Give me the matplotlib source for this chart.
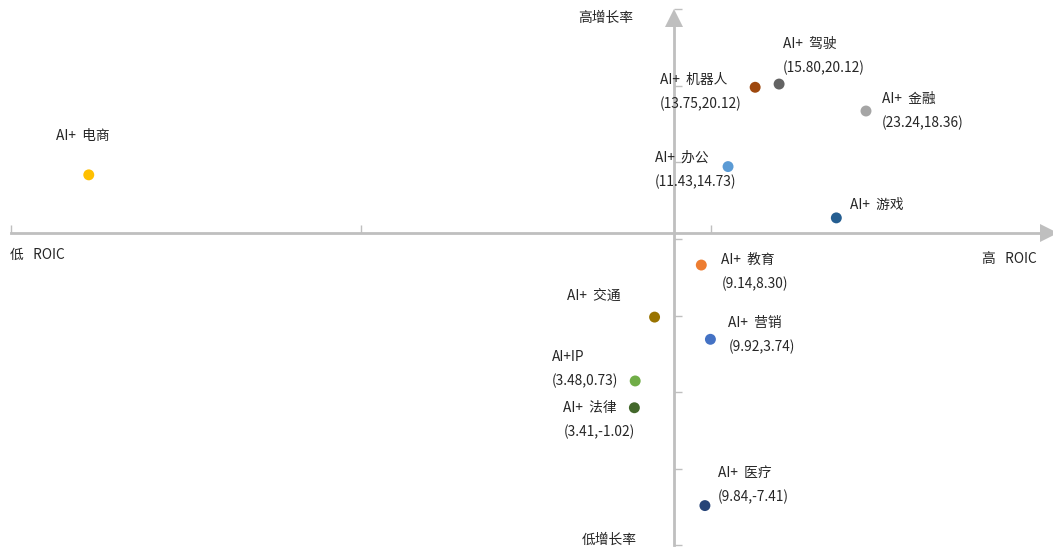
import matplotlib
matplotlib.use("Agg")
import matplotlib.pyplot as plt
from matplotlib.ticker import FixedLocator

plt.rcParams['font.family'] = ['Noto Sans CJK SC', 'DejaVu Sans']

# sector name, ROIC (x), growth rate (y) as placed in the chart
names = ["电商", "机器人", "驾驶", "金融", "办公", "游戏",
         "教育", "交通", "营销", "IP", "法律", "医疗"]
roic = [-43.3, 13.75, 15.80, 23.24, 11.43, 20.7,
        9.14, 5.14, 9.92, 3.48, 3.41, 9.45]
growth = [14.19, 19.91, 20.12, 18.36, 14.73, 11.38,
          8.30, 4.90, 3.45, 0.73, -1.02, -7.41]
# coordinate captions shown in the chart (None = not shown)
captions = [None, "(13.75,20.12)", "(15.80,20.12)", "(23.24,18.36)",
            "(11.43,14.73)", None, "(9.14,8.30)", None, "(9.92,3.74)",
            "(3.48,0.73)", "(3.41,-1.02)", "(9.84,-7.41)"]
colors = ["#FFC000", "#9E480E", "#636363", "#A5A5A5", "#5B9BD5", "#255E91",
          "#ED7D31", "#997300", "#4472C4", "#70AD47", "#43682B", "#264478"]
# label offsets in pixels (dx, dy) of the name line
offsets = [(-33, 39), (-95, 7), (4, 40), (16, 12), (-73, 9), (14, 13),
           (20, 5), (-88, 21), (18, 16), (-83, 24), (-71, 0), (13, 33)]

X_CROSS = 6.84   # where the vertical axis crosses
Y_CROSS = 10.39  # where the horizontal axis crosses
AX_COL = "#bfbfbf"
TXT_COL = "#262626"
FS = 9.9

fig = plt.figure(figsize=(10.53, 5.48), dpi=100)
ax = fig.add_axes([0, 0, 1, 1])
ax.set_xlim(-50.90, 39.25)
ax.set_ylim(-10.18, 25.61)
ax.patch.set_alpha(0)

for side in ["top", "right"]:
    ax.spines[side].set_visible(False)
ax.spines["left"].set_position(("data", X_CROSS))
ax.spines["bottom"].set_position(("data", Y_CROSS))
ax.spines["left"].set_bounds(-10, 24.3)
ax.spines["bottom"].set_bounds(-50, 38.5)
for side in ["left", "bottom"]:
    ax.spines[side].set_color(AX_COL)
    ax.spines[side].set_linewidth(2)
    ax.spines[side].set_zorder(1)

ax.xaxis.set_major_locator(FixedLocator([-50, -20, 10]))
ax.yaxis.set_major_locator(FixedLocator([-10, -5, 0, 5, 10, 15, 20, 25]))
ax.tick_params(direction="in", length=6, width=1, color=AX_COL,
               labelbottom=False, labelleft=False)

# arrow heads
ax.plot([38.9], [Y_CROSS], marker=">", ms=13, color=AX_COL, clip_on=False,
        markeredgewidth=0)
ax.plot([X_CROSS], [24.45], marker="^", ms=13, color=AX_COL, clip_on=False,
        markeredgewidth=0)

ax.scatter(roic, growth, s=62, c=colors, zorder=3, linewidths=0)

for x, y, n, cap, (dx, dy) in zip(roic, growth, names, captions, offsets):
    label = "AI+IP" if n == "IP" else f"AI+  {n}"
    ax.annotate(label, (x, y), xytext=(dx, dy), textcoords="offset pixels",
                ha="left", va="center", fontsize=FS, color=TXT_COL)
    if cap:
        ax.annotate(cap, (x, y), xytext=(dx, dy - 24),
                    textcoords="offset pixels", ha="left", va="center",
                    fontsize=FS, color=TXT_COL)

# quadrant captions
fig.text(578 / 1053, 1 - 18 / 548, "高增长率", ha="left", va="center",
         fontsize=FS, color=TXT_COL)
fig.text(582 / 1053, 1 - 540 / 548, "低增长率", ha="left", va="center",
         fontsize=FS, color=TXT_COL)
fig.text(10 / 1053, 1 - 255 / 548, "低   ROIC", ha="left", va="center",
         fontsize=FS, color=TXT_COL)
fig.text(982 / 1053, 1 - 259 / 548, "高   ROIC", ha="left", va="center",
         fontsize=FS, color=TXT_COL)

fig.savefig("out.png", dpi=100, facecolor="white")
